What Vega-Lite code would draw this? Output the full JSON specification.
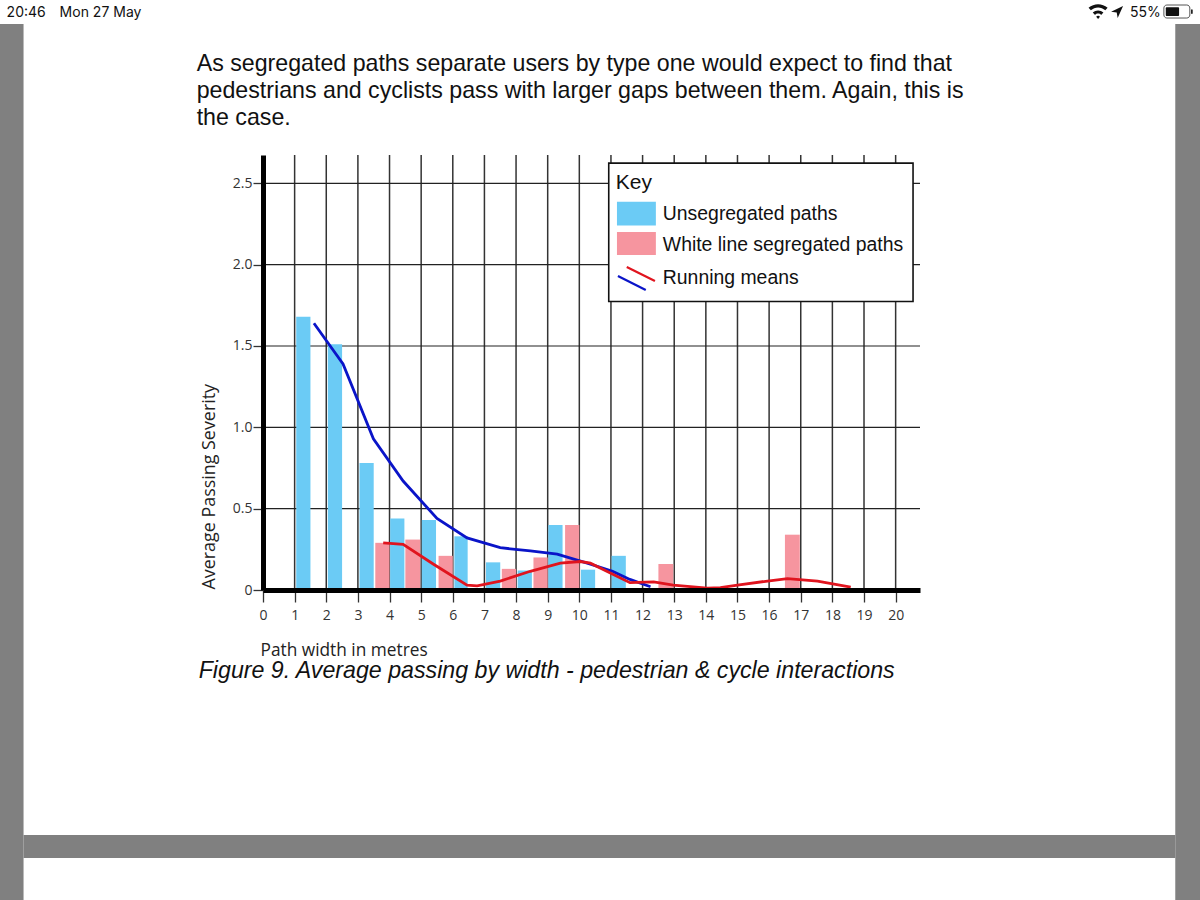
{
"$schema":"https://vega.github.io/schema/vega-lite/v6.json",
"width":657,"height":435,
"autosize":{"type":"none"},
"padding":{"left":263,"top":155,"right":280,"bottom":310},
"background":"#ffffff",
"config":{"view":{"stroke":null},"axis":{"labelFont":"Open Sans","titleFont":"Open Sans"}},
"layer":[
{"data":{"values":[
{"x":-8.33,"x2":-7.57,"y":3.48,"y2":-1.91},
{"x":28.84,"x2":29.63,"y":3.48,"y2":-1.91},
{"x":-7.57,"x2":28.84,"y":-1.506,"y2":-1.647}
]},
"mark":{"type":"rect","color":"#808080"},
"encoding":{
"x":{"field":"x","type":"quantitative","scale":{"domain":[0,20.77],"nice":false,"zero":false},
"axis":{"values":[0,1,2,3,4,5,6,7,8,9,10,11,12,13,14,15,16,17,18,19,20],"tickCount":21,"labelOverlap":false,"zindex":1,"title":"Path width in metres","titleFontSize":17.3,"titleFontWeight":"normal","titleColor":"#222222","titleX":-3,"titleY":65,"titleAlign":"left","titleBaseline":"alphabetic","grid":false,"domainColor":"#000000","domainWidth":5,"tickColor":"#333333","tickWidth":1.3,"tickSize":12,"labelFontSize":14,"labelColor":"#333333","labelPadding":6,"labelFlush":false}},
"x2":{"field":"x2"},
"y":{"field":"y","type":"quantitative","scale":{"domain":[0,2.674],"nice":false,"zero":false},
"axis":{"values":[0,0.5,1,1.5,2,2.5],"zindex":1,"labelExpr":"datum.value==0?'0':format(datum.value,'.1f')","title":"Average Passing Severity","titleFontSize":17.9,"titleFontWeight":"normal","titleColor":"#222222","titleAngle":270,"titleX":-49,"titleY":434,"titleAlign":"left","titleBaseline":"alphabetic","grid":false,"domainColor":"#000000","domainWidth":5,"tickColor":"#333333","tickWidth":1.3,"tickSize":10,"labelFontSize":14,"labelColor":"#333333","labelPadding":1}},
"y2":{"field":"y2"}
}},
{"data":{"values":[{"x":1},{"x":2},{"x":3},{"x":4},{"x":5},{"x":6},{"x":7},{"x":8},{"x":9},{"x":10},{"x":11},{"x":12},{"x":13},{"x":14},{"x":15},{"x":16},{"x":17},{"x":18},{"x":19},{"x":20}]},
"mark":{"type":"rule","color":"#333333","strokeWidth":1.5},
"encoding":{"x":{"field":"x","type":"quantitative"}}},
{"data":{"values":[{"y":0.5},{"y":1},{"y":1.5},{"y":2},{"y":2.5}]},
"mark":{"type":"rule","color":"#222222","strokeWidth":1.2},
"encoding":{"y":{"field":"y","type":"quantitative"}}},
{"data":{"values":[
{"x":1.05,"x2":1.5,"y":1.68,"y2":0,"series":"Unsegregated paths"},
{"x":2.05,"x2":2.5,"y":1.51,"y2":0,"series":"Unsegregated paths"},
{"x":3.05,"x2":3.5,"y":0.78,"y2":0,"series":"Unsegregated paths"},
{"x":4.02,"x2":4.47,"y":0.44,"y2":0,"series":"Unsegregated paths"},
{"x":5.02,"x2":5.47,"y":0.43,"y2":0,"series":"Unsegregated paths"},
{"x":6.05,"x2":6.47,"y":0.33,"y2":0,"series":"Unsegregated paths"},
{"x":7.05,"x2":7.5,"y":0.17,"y2":0,"series":"Unsegregated paths"},
{"x":8.05,"x2":8.5,"y":0.12,"y2":0,"series":"Unsegregated paths"},
{"x":9.02,"x2":9.47,"y":0.4,"y2":0,"series":"Unsegregated paths"},
{"x":10.05,"x2":10.5,"y":0.125,"y2":0,"series":"Unsegregated paths"},
{"x":11.02,"x2":11.47,"y":0.21,"y2":0,"series":"Unsegregated paths"},
{"x":3.55,"x2":4.0,"y":0.29,"y2":0,"series":"White line segregated paths"},
{"x":4.5,"x2":4.97,"y":0.31,"y2":0,"series":"White line segregated paths"},
{"x":5.55,"x2":6.0,"y":0.21,"y2":0,"series":"White line segregated paths"},
{"x":7.55,"x2":8.0,"y":0.13,"y2":0,"series":"White line segregated paths"},
{"x":8.55,"x2":9.0,"y":0.2,"y2":0,"series":"White line segregated paths"},
{"x":9.55,"x2":10.0,"y":0.4,"y2":0,"series":"White line segregated paths"},
{"x":12.5,"x2":12.97,"y":0.16,"y2":0,"series":"White line segregated paths"},
{"x":16.5,"x2":16.97,"y":0.34,"y2":0,"series":"White line segregated paths"}
]},
"mark":{"type":"rect"},
"encoding":{
"x":{"field":"x","type":"quantitative"},"x2":{"field":"x2"},
"y":{"field":"y","type":"quantitative"},"y2":{"field":"y2"},
"color":{"field":"series","type":"nominal","legend":null,"scale":{"domain":["Unsegregated paths","White line segregated paths","Running mean, unsegregated","Running mean, white line"],"range":["#6BCBF5","#F6959F","#0A14C8","#E0141E"]}}
}},
{"data":{"values":[
{"x":1.61,"y":1.64,"series":"Running mean, unsegregated"},
{"x":2.53,"y":1.39,"series":"Running mean, unsegregated"},
{"x":3.49,"y":0.93,"series":"Running mean, unsegregated"},
{"x":4.43,"y":0.67,"series":"Running mean, unsegregated"},
{"x":5.5,"y":0.44,"series":"Running mean, unsegregated"},
{"x":6.45,"y":0.32,"series":"Running mean, unsegregated"},
{"x":7.5,"y":0.26,"series":"Running mean, unsegregated"},
{"x":8.45,"y":0.24,"series":"Running mean, unsegregated"},
{"x":9.3,"y":0.22,"series":"Running mean, unsegregated"},
{"x":10.25,"y":0.165,"series":"Running mean, unsegregated"},
{"x":11.05,"y":0.115,"series":"Running mean, unsegregated"},
{"x":11.6,"y":0.065,"series":"Running mean, unsegregated"},
{"x":12.25,"y":0.02,"series":"Running mean, unsegregated"}
]},
"mark":{"type":"line","strokeWidth":2.8,"interpolate":"linear"},
"encoding":{
"x":{"field":"x","type":"quantitative"},
"y":{"field":"y","type":"quantitative"},
"color":{"field":"series","type":"nominal","legend":null},
"order":{"field":"x","type":"quantitative"}
}},
{"data":{"values":[
{"x":3.8,"y":0.29,"series":"Running mean, white line"},
{"x":4.43,"y":0.28,"series":"Running mean, white line"},
{"x":5.38,"y":0.16,"series":"Running mean, white line"},
{"x":6.45,"y":0.03,"series":"Running mean, white line"},
{"x":6.77,"y":0.025,"series":"Running mean, white line"},
{"x":7.5,"y":0.055,"series":"Running mean, white line"},
{"x":8.45,"y":0.115,"series":"Running mean, white line"},
{"x":9.4,"y":0.165,"series":"Running mean, white line"},
{"x":10.03,"y":0.175,"series":"Running mean, white line"},
{"x":10.35,"y":0.165,"series":"Running mean, white line"},
{"x":10.98,"y":0.105,"series":"Running mean, white line"},
{"x":11.6,"y":0.045,"series":"Running mean, white line"},
{"x":12.35,"y":0.05,"series":"Running mean, white line"},
{"x":12.97,"y":0.03,"series":"Running mean, white line"},
{"x":14.05,"y":0.012,"series":"Running mean, white line"},
{"x":14.46,"y":0.014,"series":"Running mean, white line"},
{"x":15.0,"y":0.03,"series":"Running mean, white line"},
{"x":15.95,"y":0.055,"series":"Running mean, white line"},
{"x":16.58,"y":0.07,"series":"Running mean, white line"},
{"x":17.53,"y":0.055,"series":"Running mean, white line"},
{"x":18.58,"y":0.018,"series":"Running mean, white line"}
]},
"mark":{"type":"line","strokeWidth":2.8,"interpolate":"linear"},
"encoding":{
"x":{"field":"x","type":"quantitative"},
"y":{"field":"y","type":"quantitative"},
"color":{"field":"series","type":"nominal","legend":null},
"order":{"field":"x","type":"quantitative"}
}},
{"data":{"values":[{"x":10.93,"x2":20.55,"y":2.624,"y2":1.773}]},
"mark":{"type":"rect","fill":"#ffffff","stroke":"#111111","strokeWidth":1.6},
"encoding":{"x":{"field":"x","type":"quantitative"},"x2":{"field":"x2"},"y":{"field":"y","type":"quantitative"},"y2":{"field":"y2"}}},
{"data":{"values":[
{"x":11.19,"x2":12.42,"y":2.386,"y2":2.24,"series":"Unsegregated paths"},
{"x":11.19,"x2":12.42,"y":2.2,"y2":2.059,"series":"White line segregated paths"}
]},
"mark":{"type":"rect"},
"encoding":{"x":{"field":"x","type":"quantitative"},"x2":{"field":"x2"},"y":{"field":"y","type":"quantitative"},"y2":{"field":"y2"},"color":{"field":"series","type":"nominal","legend":null}}},
{"data":{"values":[
{"x":11.5,"y":1.985,"series":"Running mean, white line"},
{"x":12.39,"y":1.899,"series":"Running mean, white line"},
{"x":11.22,"y":1.93,"series":"Running mean, unsegregated"},
{"x":12.1,"y":1.844,"series":"Running mean, unsegregated"}
]},
"mark":{"type":"line","strokeWidth":2.2},
"encoding":{"x":{"field":"x","type":"quantitative"},"y":{"field":"y","type":"quantitative"},"color":{"field":"series","type":"nominal","legend":null}}},
{"data":{"values":[
{"x":11.15,"y":2.465,"label":"Key"}
]},
"mark":{"type":"text","font":"Liberation Sans","fontSize":21,"align":"left","baseline":"alphabetic","color":"#111111"},
"encoding":{"x":{"field":"x","type":"quantitative"},"y":{"field":"y","type":"quantitative"},"text":{"field":"label"}}},
{"data":{"values":[
{"x":12.64,"y":2.274,"label":"Unsegregated paths"},
{"x":12.64,"y":2.084,"label":"White line segregated paths"},
{"x":12.64,"y":1.881,"label":"Running means"}
]},
"mark":{"type":"text","font":"Liberation Sans","fontSize":19.4,"align":"left","baseline":"alphabetic","color":"#111111"},
"encoding":{"x":{"field":"x","type":"quantitative"},"y":{"field":"y","type":"quantitative"},"text":{"field":"label"}}},
{"data":{"values":[
{"x":-2.097,"y":3.19,"label":"As segregated paths separate users by type one would expect to find that"},
{"x":-2.097,"y":3.024,"label":"pedestrians and cyclists pass with larger gaps between them. Again, this is"},
{"x":-2.097,"y":2.858,"label":"the case."}
]},
"mark":{"type":"text","font":"Liberation Sans","fontSize":23.2,"align":"left","baseline":"alphabetic","color":"#111111"},
"encoding":{"x":{"field":"x","type":"quantitative"},"y":{"field":"y","type":"quantitative"},"text":{"field":"label"}}},
{"data":{"values":[
{"x":-2.033,"y":-0.541,"label":"Figure 9. Average passing by width - pedestrian & cycle interactions"}
]},
"mark":{"type":"text","font":"Liberation Sans","fontStyle":"italic","fontSize":23.2,"align":"left","baseline":"alphabetic","color":"#111111"},
"encoding":{"x":{"field":"x","type":"quantitative"},"y":{"field":"y","type":"quantitative"},"text":{"field":"label"}}},
{"data":{"values":[
{"x":-8.106,"y":3.522,"label":"20:46"},
{"x":-6.43,"y":3.522,"label":"Mon 27 May"},
{"x":27.41,"y":3.522,"label":"55%"}
]},
"mark":{"type":"text","font":"Inter","fontSize":14,"align":"left","baseline":"alphabetic","color":"#111111"},
"encoding":{"x":{"field":"x","type":"quantitative"},"y":{"field":"y","type":"quantitative"},"text":{"field":"label"}}},
{"data":{"values":[{"x":28.48,"x2":29.3,"y":3.596,"y2":3.516}]},
"mark":{"type":"rect","fill":"#ffffff","stroke":"#555555","strokeWidth":1,"cornerRadius":3},
"encoding":{"x":{"field":"x","type":"quantitative"},"x2":{"field":"x2"},"y":{"field":"y","type":"quantitative"},"y2":{"field":"y2"}}},
{"data":{"values":[{"x":28.54,"x2":28.96,"y":3.583,"y2":3.528},{"x":29.34,"x2":29.39,"y":3.57,"y2":3.54}]},
"mark":{"type":"rect","fill":"#111111","cornerRadius":1},
"encoding":{"x":{"field":"x","type":"quantitative"},"x2":{"field":"x2"},"y":{"field":"y","type":"quantitative"},"y2":{"field":"y2"}}},
{"data":{"values":[{"x":26.4,"y":3.555}]},
"mark":{"type":"point","filled":true,"color":"#111111","opacity":1,"size":1450,"shape":"M-0.5 -0.2 A0.75 0.75 0 0 1 0.5 -0.2 L0.38 -0.07 A0.55 0.55 0 0 0 -0.38 -0.07 Z M-0.28 0.04 A0.42 0.42 0 0 1 0.28 0.04 L0.16 0.17 A0.22 0.22 0 0 0 -0.16 0.17 Z M-0.1 0.26 A0.14 0.14 0 0 1 0.1 0.26 L0 0.38 Z"},
"encoding":{"x":{"field":"x","type":"quantitative"},"y":{"field":"y","type":"quantitative"}}},
{"data":{"values":[{"x":27.0,"y":3.553}]},
"mark":{"type":"point","filled":true,"color":"#111111","opacity":1,"size":576,"shape":"M0.5 -0.5 L0.05 0.5 L-0.03 0.05 L-0.5 -0.03 Z"},
"encoding":{"x":{"field":"x","type":"quantitative"},"y":{"field":"y","type":"quantitative"}}}
]
}
